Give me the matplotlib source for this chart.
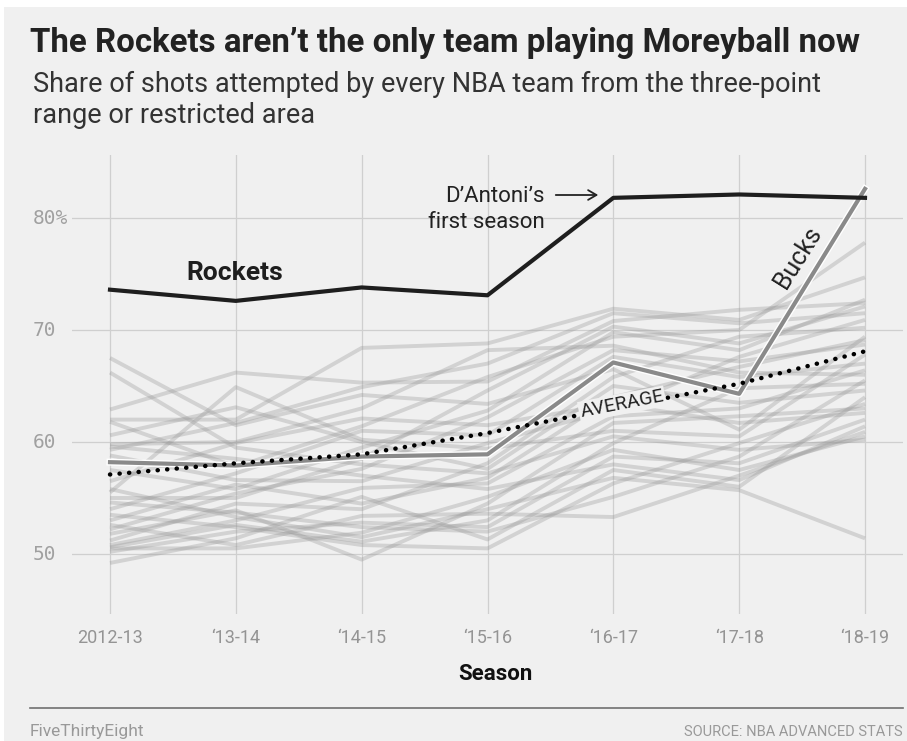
import matplotlib
matplotlib.use("Agg")
import matplotlib.pyplot as plt
import matplotlib.patheffects as pe
from matplotlib.patches import Rectangle
from matplotlib.lines import Line2D

plt.rcParams['font.family'] = ['Roboto', 'DejaVu Sans']

seasons = ["2012-13", "\u201813-14", "\u201814-15", "\u201815-16", "\u201816-17", "\u201817-18", "\u201818-19"]
y_ticks = [50, 60, 70, 80]
y_tick_labels = ["50", "60", "70", "80%"]

rockets = [73.6, 72.6, 73.8, 73.1, 81.8, 82.1, 81.8]
bucks = [58.2, 57.9, 58.7, 58.9, 67.1, 64.3, 82.6]
average = [57.1, 58.1, 58.9, 60.8, 63.0, 65.2, 68.1]

other_teams = [
    [67.5, 61.5, 64.2, 63.4, 66.5, 61.1, 69.4],
    [66.2, 59.5, 58.0, 57.2, 60.5, 59.3, 60.2],
    [62.9, 66.2, 65.3, 65.4, 70.8, 71.8, 72.4],
    [62.0, 62.0, 68.4, 68.8, 71.9, 70.9, 74.7],
    [61.8, 57.8, 61.4, 65.8, 69.4, 70.0, 77.8],
    [60.6, 63.1, 60.0, 57.6, 65.0, 63.5, 64.6],
    [59.8, 60.0, 63.0, 68.2, 68.6, 66.2, 66.0],
    [59.6, 58.5, 57.0, 55.8, 58.0, 56.6, 61.4],
    [59.3, 61.7, 64.9, 67.0, 71.5, 70.6, 71.5],
    [58.8, 56.6, 56.5, 59.9, 62.9, 67.6, 70.9],
    [57.5, 55.8, 59.5, 62.8, 69.8, 68.2, 72.7],
    [56.5, 59.9, 62.1, 61.5, 63.4, 61.7, 62.6],
    [55.8, 53.3, 51.5, 54.0, 56.8, 55.7, 51.4],
    [55.5, 64.9, 60.2, 59.4, 61.0, 60.5, 67.8],
    [55.0, 55.0, 58.5, 64.6, 70.3, 68.8, 72.1],
    [54.6, 53.7, 52.4, 52.0, 55.1, 58.7, 65.5],
    [54.0, 57.2, 61.0, 60.6, 67.6, 65.8, 67.0],
    [53.5, 52.4, 50.8, 50.5, 56.3, 59.9, 63.4],
    [53.0, 56.2, 54.5, 56.8, 64.0, 66.7, 69.1],
    [52.6, 50.8, 53.4, 53.6, 53.3, 57.0, 60.9],
    [52.2, 55.4, 57.6, 62.2, 68.2, 67.2, 68.7],
    [51.8, 53.9, 49.5, 54.5, 61.7, 62.3, 63.0],
    [51.2, 54.5, 54.0, 58.1, 65.8, 69.4, 70.2],
    [50.8, 53.0, 55.9, 56.3, 62.3, 63.0, 66.4],
    [50.6, 52.6, 51.1, 53.0, 59.9, 64.8, 65.2],
    [50.5, 50.5, 51.9, 55.1, 59.3, 57.5, 60.5],
    [50.2, 52.0, 52.8, 52.4, 58.7, 58.1, 62.0],
    [49.2, 51.4, 55.1, 51.3, 57.5, 56.0, 64.0],
]

W, H = 907, 741
BG = "#f0f0f0"

def fx(px):
    return px / W

def fy(py):
    return 1 - py / H

fig = plt.figure(figsize=(W / 100, H / 100), dpi=100)
fig.patch.set_facecolor("white")
fig.patches.append(Rectangle((fx(4), 0), 1 - fx(4), fy(7), transform=fig.transFigure,
                             facecolor=BG, edgecolor="none", zorder=-10))

ax_l, ax_r, ax_t, ax_b = 72, 903, 155, 614
ax = fig.add_axes([fx(ax_l), fy(ax_b), fx(ax_r - ax_l), (ax_b - ax_t) / H])
ax.set_facecolor(BG)

x = list(range(len(seasons)))
px_per_x = (865 - 110) / 6
ax.set_xlim(0 - (110 - ax_l) / px_per_x, 6 + (ax_r - 865) / px_per_x)
px_per_y = (554 - 218) / 30
ax.set_ylim(50 - (ax_b - 554) / px_per_y, 50 + (554 - ax_t) / px_per_y)

for s in ax.spines.values():
    s.set_visible(False)
ax.set_xticks(x)
ax.set_xticklabels([])
ax.set_yticks(y_ticks)
ax.set_yticklabels([])
ax.tick_params(length=0)
ax.grid(True, color="#cfcfcf", linewidth=0.9, zorder=0)
ax.set_axisbelow(True)

for team in other_teams:
    ax.plot(x, team, color="#9a9a9a", alpha=0.35, linewidth=2.8, solid_capstyle="butt", zorder=2)

ax.plot(x, bucks, color="#8a8a8a", linewidth=3.0, zorder=3,
        path_effects=[pe.Stroke(linewidth=5.0, foreground="white"), pe.Normal()])
ax.plot(x, average, color="black", linewidth=3.2, linestyle=(0, (0.05, 2.1)),
        dash_capstyle="round", zorder=4)
ax.plot(x, rockets, color="#1e1e1e", linewidth=3.0, zorder=5, solid_joinstyle="round")

# tick labels as text
for xi, lab in zip(x, seasons):
    fig.text(fx(110 + xi * px_per_x), fy(643), lab, ha="center", va="baseline",
             fontsize=13, color="#949494")
for v, lab in zip(y_ticks, y_tick_labels):
    fig.text(fx(33), fy(554 - (v - 50) * px_per_y), lab, ha="left", va="center",
             fontsize=14, color="#a0a0a0", family=["DejaVu Sans Mono"])

fig.text(fx(495), fy(680), "Season", ha="center", va="baseline", fontsize=16,
         fontweight="bold", color="#111111")

# annotations
fig.text(fx(235), fy(280), "Rockets", ha="center", va="baseline", fontsize=19,
         fontweight="bold", color="#1e1e1e")
fig.text(fx(545), fy(202), "D\u2019Antoni\u2019s", ha="right", va="baseline", fontsize=16,
         color="#222222")
fig.text(fx(545), fy(228), "first season", ha="right", va="baseline", fontsize=16,
         color="#222222")
fig.patches.append(matplotlib.patches.FancyArrowPatch(
    (fx(553), fy(195)), (fx(601), fy(195)), transform=fig.transFigure,
    arrowstyle="->,head_length=6,head_width=3.5", linewidth=1.3, color="#222222",
    mutation_scale=1))
fig.text(fx(798), fy(257), "Bucks", ha="center", va="center", rotation=58,
         fontsize=18, color="#222222", rotation_mode="anchor")
fig.text(fx(622), fy(404), "AVERAGE", ha="center", va="center", rotation=11,
         fontsize=14, color="#222222", rotation_mode="anchor",
         bbox=dict(facecolor=BG, edgecolor="none", pad=1.0), zorder=10)

# title & subtitle
fig.text(fx(30), fy(52), "The Rockets aren\u2019t the only team playing Moreyball now",
         ha="left", va="baseline", fontsize=23.8, fontweight="bold", color="#222222")
fig.text(fx(33), fy(92), "Share of shots attempted by every NBA team from the three-point",
         ha="left", va="baseline", fontsize=19.5, color="#333333")
fig.text(fx(33), fy(123), "range or restricted area",
         ha="left", va="baseline", fontsize=19.5, color="#333333")

# footer
fig.add_artist(Line2D([fx(30), fx(903)], [fy(708), fy(708)], transform=fig.transFigure,
                      color="#707070", linewidth=1.2))
fig.text(fx(30), fy(736), "FiveThirtyEight", ha="left", va="baseline", fontsize=12.5,
         color="#999999")
fig.text(fx(903), fy(736), "SOURCE: NBA ADVANCED STATS", ha="right", va="baseline",
         fontsize=10.5, color="#999999")

fig.savefig("out.png", dpi=100, facecolor=fig.get_facecolor())
